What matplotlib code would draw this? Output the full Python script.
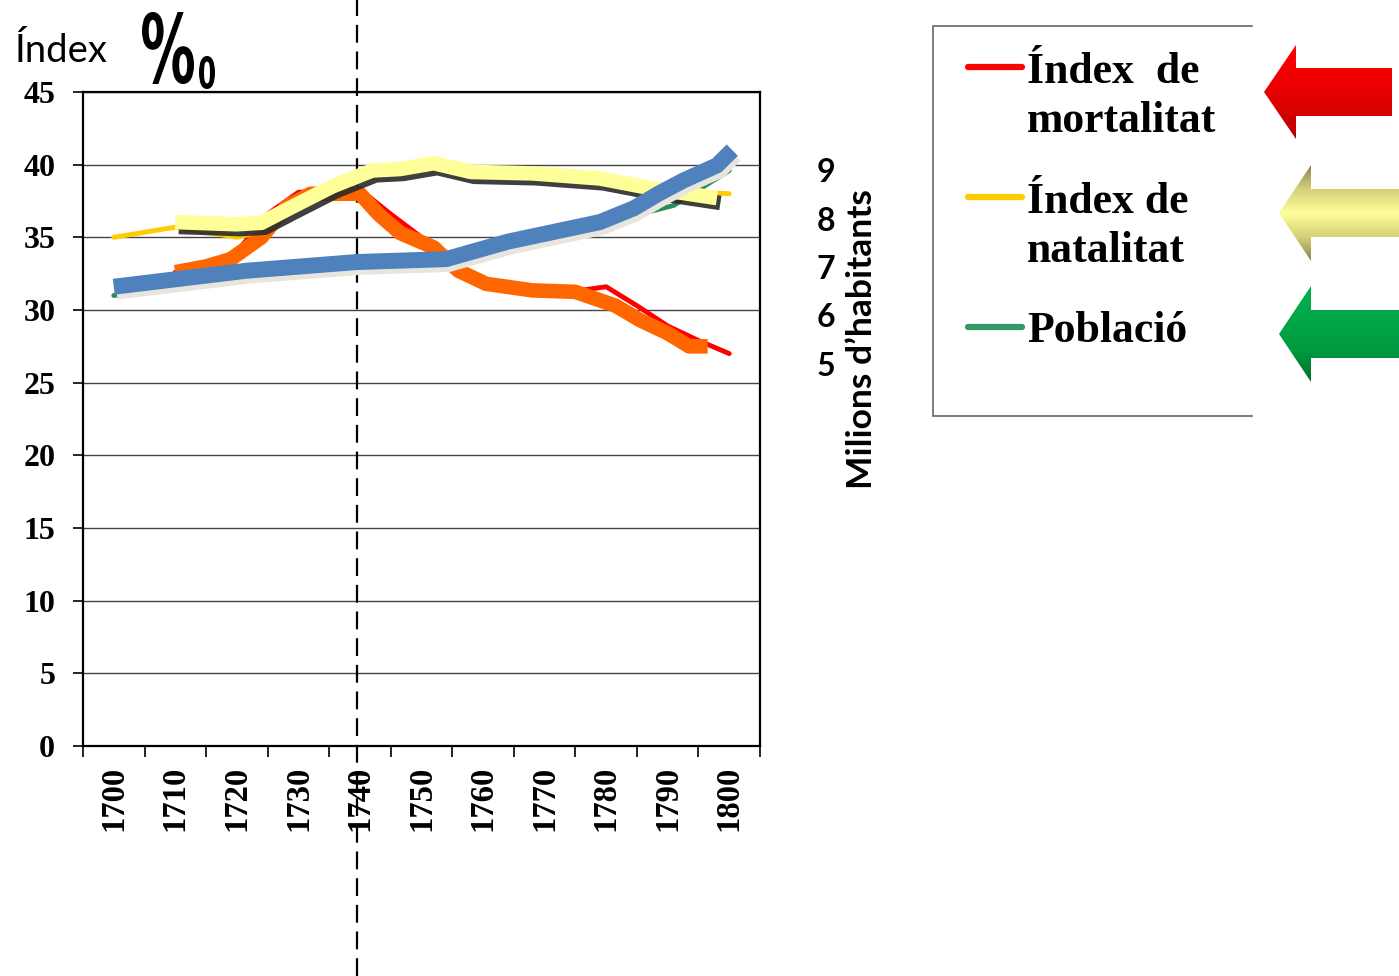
import numpy as np
import matplotlib
matplotlib.use("Agg")
import matplotlib.pyplot as plt
import matplotlib.patheffects as pe
from matplotlib.patches import Polygon, PathPatch
from matplotlib.colors import LinearSegmentedColormap
from matplotlib.textpath import TextPath
from matplotlib.font_manager import FontProperties
from matplotlib.transforms import Affine2D

# =====================================================
# DATA
# =====================================================

decades = [1700, 1710, 1720, 1730, 1740, 1750, 1760, 1770, 1780, 1790, 1800]
y_ticks = [0, 5, 10, 15, 20, 25, 30, 35, 40, 45]
pop_labels = ["9", "8", "7", "6", "5"]

# thin red line: index de mortalitat
mort_years = [1710, 1715, 1720, 1725, 1730, 1735, 1740, 1745, 1750, 1755,
              1760, 1765, 1770, 1775, 1780, 1785, 1790, 1795, 1800]
mort_vals = [32.6, 33.0, 34.0, 36.6, 38.1, 38.2, 38.3, 36.6, 35.0, 33.0,
             31.6, 31.4, 31.3, 31.3, 31.6, 30.3, 28.9, 27.9, 27.0]

# thick orange line: mortalitat (tendencia)
mort_t_years = [1710, 1715, 1719, 1724, 1728, 1732, 1736, 1740, 1743, 1746.5,
                1752, 1756, 1760.5, 1768, 1775, 1781.5, 1785.5, 1790, 1793.5, 1796.5]
mort_t_vals = [32.6, 33.0, 33.5, 35.0, 37.1, 38.0, 38.0, 38.0, 36.6, 35.3,
               34.3, 32.7, 31.8, 31.35, 31.25, 30.3, 29.3, 28.4, 27.5, 27.5]

# thin gold line: index de natalitat
nat_years = [1700, 1710, 1720, 1725, 1730, 1740, 1750, 1760, 1770, 1780, 1790, 1800]
nat_vals = [35.0, 35.7, 35.0, 35.5, 37.0, 39.4, 40.0, 39.4, 39.3, 39.1, 38.2, 38.0]

# thick pale yellow line: natalitat (tendencia)
nat_t_years = [1710, 1720, 1724, 1729, 1735.5, 1742, 1746.5, 1752, 1758, 1768,
               1779, 1787, 1798]
nat_t_vals = [36.05, 35.9, 36.0, 37.1, 38.5, 39.6, 39.7, 40.1, 39.5, 39.4,
              39.05, 38.4, 37.7]

# thin green line: poblacio
pop_years = [1700, 1720, 1740, 1750, 1760, 1770, 1780, 1791, 1800]
pop_vals = [31.0, 32.0, 32.8, 33.2, 33.8, 35.0, 36.0, 37.2, 39.6]

# thick blue line: poblacio (tendencia)
pop_t_years = [1700, 1721.5, 1739.5, 1754, 1764, 1779, 1784.5, 1788.5, 1792.5,
               1798, 1800.5]
pop_t_vals = [31.6, 32.7, 33.3, 33.5, 34.7, 36.05, 37.0, 38.0, 38.9, 39.95, 41.0]

legend_lines = [["Índex  de", "mortalitat"], ["Índex de", "natalitat"], ["Població"]]
legend_colors = ["#ff0000", "#ffcc00", "#339966"]

# =====================================================
# FIGURE
# =====================================================

W, H = 1399, 976
fig = plt.figure(figsize=(W / 100, H / 100), dpi=100)

serif = "Liberation Serif"
sans = "Lato"

ax = fig.add_axes([83 / W, 1 - 746 / H, 677 / W, 654 / H])
ax.set_xlim(1695, 1805)
ax.set_ylim(0, 45)

ax.set_yticks(y_ticks)
ax.set_yticklabels([str(v) for v in y_ticks], fontfamily=serif,
                   fontweight="bold", fontsize=23)
ax.tick_params(axis="y", direction="out", length=7, width=1.2, pad=13)

ax.set_xticks(decades)
ax.set_xticklabels([str(d) for d in decades], rotation=90, fontfamily=serif,
                   fontweight="bold", fontsize=23.5)
ax.set_xticks(np.arange(1695, 1806, 10), minor=True)
ax.tick_params(axis="x", which="major", length=0, pad=14)
ax.tick_params(axis="x", which="minor", direction="out", length=8, width=1.2)

ax.grid(axis="y", color="#444444", linewidth=1.0)
ax.set_axisbelow(True)
for s in ax.spines.values():
    s.set_linewidth(1.6)
    s.set_color("black")

# dashed line at 1740 crossing the whole picture
ax.axvline(1739.5, ymin=-0.352, ymax=1.141, color="black", linewidth=1.6,
           dashes=(8, 4), clip_on=False, zorder=1.5)

# =====================================================
# SERIES
# =====================================================

ax.plot(pop_years, pop_vals, color="#2e8b57", linewidth=3.5,
        solid_capstyle="round", zorder=3)
ax.plot(mort_years, mort_vals, color="#ff0000", linewidth=3.5,
        solid_capstyle="round", solid_joinstyle="round", zorder=3)
ax.plot(nat_years, nat_vals, color="#ffcc00", linewidth=3.5,
        solid_capstyle="round", zorder=3)

ax.plot(mort_t_years, mort_t_vals, color="#ff6600", linewidth=10.5,
        solid_capstyle="butt", solid_joinstyle="round", zorder=4)
ax.plot(nat_t_years, nat_t_vals, color="#ffff99", linewidth=10.5,
        solid_capstyle="butt", solid_joinstyle="round", zorder=5,
        path_effects=[pe.SimpleLineShadow(offset=(2.5, -3.5),
                                          shadow_color="#2a2a2a", alpha=0.9),
                      pe.Normal()])
ax.plot(pop_t_years, pop_t_vals, color="#4f81bd", linewidth=11.5,
        solid_capstyle="butt", solid_joinstyle="round", zorder=6,
        path_effects=[pe.SimpleLineShadow(offset=(2.0, -3.5),
                                          shadow_color="#e8e6dc", alpha=1.0),
                      pe.Normal()])

# =====================================================
# OVERLAY (texts, legend, arrows) in pixel units
# =====================================================

ov = fig.add_axes([0, 0, 1, 1], zorder=5)
ov.set_xlim(0, W)
ov.set_ylim(H, 0)
ov.axis("off")

ov.text(14, 62, "Índex", fontfamily=sans, fontsize=27.5, ha="left", va="baseline")


def glyph(ch, x0, x1, y_top, y_base, weight="bold"):
    # draw one character stretched into a pixel box
    tp = TextPath((0, 0), ch, size=100,
                  prop=FontProperties(family="DejaVu Sans", weight=weight))
    ext = tp.get_extents()
    sx = (x1 - x0) / ext.width
    sy = (y_base - y_top) / ext.height
    tr = Affine2D().translate(-ext.x0, -ext.y0).scale(sx, -sy).translate(x0, y_base)
    ov.add_patch(PathPatch(tr.transform_path(tp), facecolor="black",
                           edgecolor="none"))


# per-mille sign: a tall % followed by a narrow 0
glyph("%", 142, 194, 12, 84)
glyph("0", 199, 215, 56, 89)

for i, lab in enumerate(pop_labels):
    ov.text(826, 173 + i * 48.3, lab, fontfamily=sans, fontweight="bold",
            fontsize=23, ha="center", va="center")
ov.text(862, 339, "Milions d\u2019habitants", fontfamily=sans, fontweight="bold",
        fontsize=25.5, rotation=90, ha="center", va="center")

# legend box (open on the right)
ov.plot([1252, 933, 933, 1252], [26, 26, 416, 416], color="#666666",
        linewidth=1.2, solid_joinstyle="miter")
sample_y = [66.5, 196.5, 326.5]
text_base = [[83, 132], [213, 262], [342]]
for lines, col, y0, bases in zip(legend_lines, legend_colors, sample_y, text_base):
    ov.plot([968, 1022], [y0, y0], color=col, linewidth=4.5,
            solid_capstyle="round")
    for txt, yb in zip(lines, bases):
        ov.text(1027, yb, txt, fontfamily=serif, fontweight="bold",
                fontsize=31.5, ha="left", va="baseline")


def gradient_arrow(pts, colors):
    poly = Polygon(pts, closed=True, facecolor="none", edgecolor="none")
    ov.add_patch(poly)
    xs = [p[0] for p in pts]
    ys = [p[1] for p in pts]
    cmap = LinearSegmentedColormap.from_list("g", colors)
    grad = np.linspace(0, 1, 256).reshape(-1, 1)
    im = ov.imshow(grad, cmap=cmap, aspect="auto", origin="upper",
                   extent=(min(xs), max(xs), max(ys), min(ys)),
                   interpolation="bilinear")
    im.set_clip_path(poly)


def arrow_pts(tip_x, tip_y, head_x, half_head, half_shaft, end_x):
    return [(tip_x, tip_y), (head_x, tip_y - half_head),
            (head_x, tip_y - half_shaft), (end_x, tip_y - half_shaft),
            (end_x, tip_y + half_shaft), (head_x, tip_y + half_shaft),
            (head_x, tip_y + half_head)]


gradient_arrow(arrow_pts(1264, 92, 1296, 47, 24, 1392),
               ["#ff0000", "#f00000", "#dd0000", "#b00000"])
gradient_arrow(arrow_pts(1279, 213, 1311, 48, 24, 1400),
               ["#8a844e", "#d6d07a", "#ffff99", "#d6d07a", "#8a844e"])
gradient_arrow(arrow_pts(1279, 334, 1311, 48, 24, 1400),
               ["#00b050", "#00a848", "#009a40", "#006e2c"])

ov.set_xlim(0, W)
ov.set_ylim(H, 0)

fig.savefig("out.png", dpi=100, facecolor="white")
